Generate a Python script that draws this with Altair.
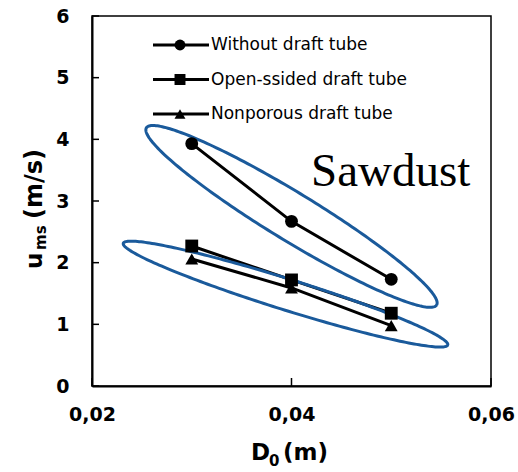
import altair as alt
import numpy as np
import pandas as pd

# ---- data ----
D0 = [0.03, 0.04, 0.05]
series_names = ["Without draft tube", "Open-ssided draft tube", "Nonporous draft tube"]
without = [3.93, 2.67, 1.73]
open_sided = [2.27, 1.72, 1.18]
nonporous = [2.06, 1.59, 0.98]
shapes = ["circle", "square", "triangle-up"]

x_ticks = [0.02, 0.04, 0.06]
y_ticks = [0, 1, 2, 3, 4, 5, 6]

# ellipse annotations: centre (data units), semi-axes (px), tilt (deg, clockwise)
ell_cx = [0.0400, 0.0394]
ell_cy = [2.75, 1.49]
ell_a = [170, 170]
ell_b = [24, 15.5]
ell_ang = [31.4, 17.4]

W, H = 399, 370
XMIN, XMAX, YMIN, YMAX = 0.02, 0.06, 0, 6

rows = []
for name, vals in zip(series_names, [without, open_sided, nonporous]):
    for x, y in zip(D0, vals):
        rows.append({"D0": x, "u": y, "series": name})
df = pd.DataFrame(rows)

# ellipse outlines
erows = []
t = np.linspace(0, 2 * np.pi, 241)
for k in range(len(ell_cx)):
    th = np.radians(ell_ang[k])
    px = ell_a[k] * np.cos(t) * np.cos(th) - ell_b[k] * np.sin(t) * np.sin(th)
    py = ell_a[k] * np.cos(t) * np.sin(th) + ell_b[k] * np.sin(t) * np.cos(th)
    xs = ell_cx[k] + px / W * (XMAX - XMIN)
    ys = ell_cy[k] - py / H * (YMAX - YMIN)
    for i, (a, b) in enumerate(zip(xs, ys)):
        erows.append({"D0": a, "u": b, "ell": k, "i": i})
edf = pd.DataFrame(erows)

xscale = alt.Scale(domain=[XMIN, XMAX], nice=False, zero=False)
yscale = alt.Scale(domain=[YMIN, YMAX], nice=False, zero=True)

FONT = "DejaVu Sans"

xaxis = alt.Axis(
    values=x_ticks, labelExpr="replace(format(datum.value, '.2f'), '.', ',')",
    title="", ticks=False, grid=False, domainColor="black", domainWidth=2,
    labelFont=FONT, labelFontWeight="bold", labelFontSize=19, labelColor="black",
    labelPadding=19, labelFlush=False,
)
yaxis = alt.Axis(
    values=y_ticks, format="d", title="", ticks=False, grid=False,
    domainColor="black", domainWidth=2, labelFont=FONT, labelFontWeight="bold",
    labelFontSize=19, labelColor="black", labelPadding=23, labelFlush=False,
)

base = alt.Chart(df)

lines = base.mark_line(color="black", strokeWidth=3).encode(
    x=alt.X("D0:Q", scale=xscale, axis=xaxis),
    y=alt.Y("u:Q", scale=yscale, axis=yaxis),
    detail="series:N",
)
points = base.mark_point(filled=True, color="black", opacity=1, size=165).encode(
    x=alt.X("D0:Q"),
    y=alt.Y("u:Q"),
    shape=alt.Shape("series:N", scale=alt.Scale(domain=series_names, range=shapes), legend=None),
)

ellipses = alt.Chart(edf).mark_line(color="#1a5a9b", strokeWidth=3).encode(
    x=alt.X("D0:Q"),
    y=alt.Y("u:Q"),
    detail="ell:N",
    order="i:Q",
)

ytk = alt.Chart(pd.DataFrame({"u": y_ticks})).mark_rule(color="black", strokeWidth=1.5).encode(
    y=alt.Y("u:Q"), x=alt.value(0), x2=alt.value(7)
)
xtk = alt.Chart(pd.DataFrame({"D0": x_ticks})).mark_rule(color="black", strokeWidth=1.5).encode(
    x=alt.X("D0:Q"), y=alt.value(H), y2=alt.value(H - 8)
)

one = pd.DataFrame({"a": [0]})
legend_layers = []
for i, (name, shp) in enumerate(zip(series_names, shapes)):
    yy = 29 + 34.5 * i
    legend_layers.append(
        alt.Chart(one).mark_rule(color="black", strokeWidth=3).encode(
            x=alt.value(61), x2=alt.value(117), y=alt.value(yy)
        )
    )
    legend_layers.append(
        alt.Chart(one).mark_point(filled=True, color="black", opacity=1, size=120, shape=shp).encode(
            x=alt.value(88), y=alt.value(yy)
        )
    )
    legend_layers.append(
        alt.Chart(one).mark_text(text=name, font=FONT, fontSize=17, color="black",
                                 align="left", baseline="middle").encode(
            x=alt.value(119), y=alt.value(yy)
        )
    )

sawdust = alt.Chart(one).mark_text(text="Sawdust", font="Liberation Serif", fontSize=47,
                                   color="black", align="left", baseline="alphabetic").encode(
    x=alt.value(219), y=alt.value(170)
)


def txt(s, x, y, size, angle=0):
    kw = dict(text=s, font=FONT, fontSize=size, fontWeight="bold", color="black",
              align="left", baseline="alphabetic")
    if angle:
        kw["angle"] = angle
    return alt.Chart(one).mark_text(**kw).encode(x=alt.value(x), y=alt.value(y))


# axis titles with real subscripts
titles = [
    txt("D", 159, 444, 23),
    txt("0", 177, 450, 15),
    txt("(m)", 191, 444, 23),
    txt("u", -50, 253, 23, 270),
    txt("ms", -46, 234, 15, 270),
    txt("(m/s)", -50, 203, 24, 270),
]

chart = alt.layer(lines, ellipses, points, ytk, xtk, sawdust, *legend_layers, *titles).properties(
    width=W, height=H,
    background="white",
    autosize=alt.AutoSizeParams(type="none"),
    padding={"left": 92, "top": 16, "right": 27, "bottom": 86},
).configure_view(stroke="black", strokeWidth=1.5)

chart.save("out.html", embed_options={"renderer": "svg", "actions": False})
